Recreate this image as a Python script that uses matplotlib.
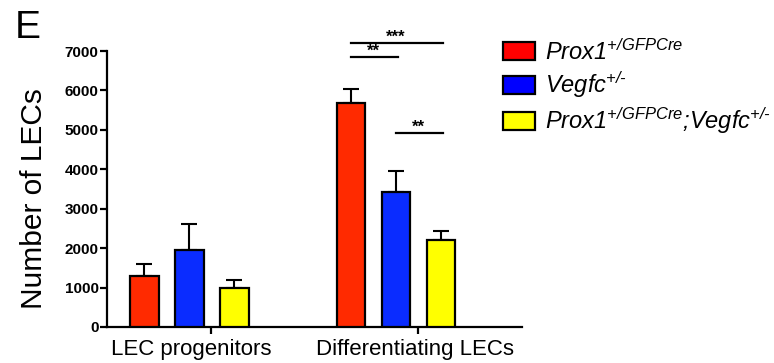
import numpy as np
import matplotlib
matplotlib.use('Agg')
from matplotlib import pyplot as plt
from matplotlib.patches import Patch

plt.rcParams['font.family'] = ['Liberation Sans', 'DejaVu Sans']
plt.rcParams['mathtext.fontset'] = 'custom'
plt.rcParams['mathtext.it'] = 'Liberation Sans:italic'
plt.rcParams['mathtext.rm'] = 'Liberation Sans:italic'

# LEC counts per stage (mean and SEM)
categories = ['LEC progenitors', 'Differentiating LECs']
genotypes = [r'$\text{Prox1}^{\text{+/GFPCre}}$',
             r'$\text{Vegfc}^{\text{+/-}}$',
             r'$\text{Prox1}^{\text{+/GFPCre}}\text{;Vegfc}^{\text{+/-}}$']
prox1_mean = [1300, 5680]
prox1_sem = [310, 350]
vegfc_mean = [1950, 3430]
vegfc_sem = [670, 530]
double_mean = [980, 2210]
double_sem = [200, 230]

# significance brackets on the differentiating group: (bar a, bar b, height, label)
sig_pairs = [(0, 2, 7200, '***'), (0, 1, 6850, '**'), (1, 2, 4920, '**')]

colors = ['#ff2a00', '#0a2cff', '#ffff00']
legend_colors = ['#ff0000', '#0000ff', '#ffff00']
means = [prox1_mean, vegfc_mean, double_mean]
sems = [prox1_sem, vegfc_sem, double_sem]

fig = plt.figure(figsize=(7.74, 3.63), dpi=100)
ax = fig.add_axes([0.1382, 0.0992, 0.5362, 0.7603])

x = np.arange(len(categories))
step = 0.218
width = 0.14
for i in range(3):
    xi = x + (i - 1) * step
    ax.bar(xi, means[i], width, color=colors[i], edgecolor='black', linewidth=1.6,
           zorder=3)
    ax.errorbar(xi, means[i], yerr=[np.zeros(len(x)), sems[i]], fmt='none',
                ecolor='black', elinewidth=1.5, capsize=6, capthick=1.5, zorder=2)

for a, b, h, lab in sig_pairs:
    xa = x[1] + (a - 1) * step
    xb = x[1] + (b - 1) * step
    ax.plot([xa, xb + 0.01], [h, h], color='black', lw=1.6, clip_on=False)
    ax.annotate(lab, ((xa + xb) / 2, h), xytext=(0, 1.0), textcoords='offset points',
                ha='center', va='baseline', fontsize=12, fontweight='bold',
                annotation_clip=False)

ax.set_xlim(-0.3995, 1.61)
ax.set_ylim(0, 7000)
ax.set_yticks(np.arange(0, 7001, 1000))
ax.tick_params(axis='y', length=5, width=1.6, labelsize=11, pad=1)
for t in ax.get_yticklabels():
    t.set_fontweight('bold')

# labels sit under the groups, tick marks a bit to the right
ax.set_xticks([0.01, 1.09])
ax.set_xticklabels(categories, fontsize=16)
ax.tick_params(axis='x', which='major', length=0, pad=9)
ax.set_xticks([0.106, 1.106], minor=True)
ax.tick_params(axis='x', which='minor', length=5, width=1.6)

ax.set_ylabel('Number of LECs', fontsize=21.5)
ax.yaxis.set_label_coords(-0.141, 0.467)
for s in ['top', 'right']:
    ax.spines[s].set_visible(False)
for s in ['left', 'bottom']:
    ax.spines[s].set_linewidth(1.6)

fig.text(0.019, 0.895, 'E', fontsize=28)

handles = [Patch(facecolor=c, edgecolor='black', linewidth=1.6) for c in legend_colors]
ax.legend(handles, genotypes, loc='upper left', bbox_to_anchor=(0.638, 0.919),
          bbox_transform=fig.transFigure, frameon=False, fontsize=17,
          handlelength=1.35, handleheight=0.8, labelspacing=0.22,
          handletextpad=0.4, borderaxespad=0)

plt.savefig('out.png', dpi=100)
